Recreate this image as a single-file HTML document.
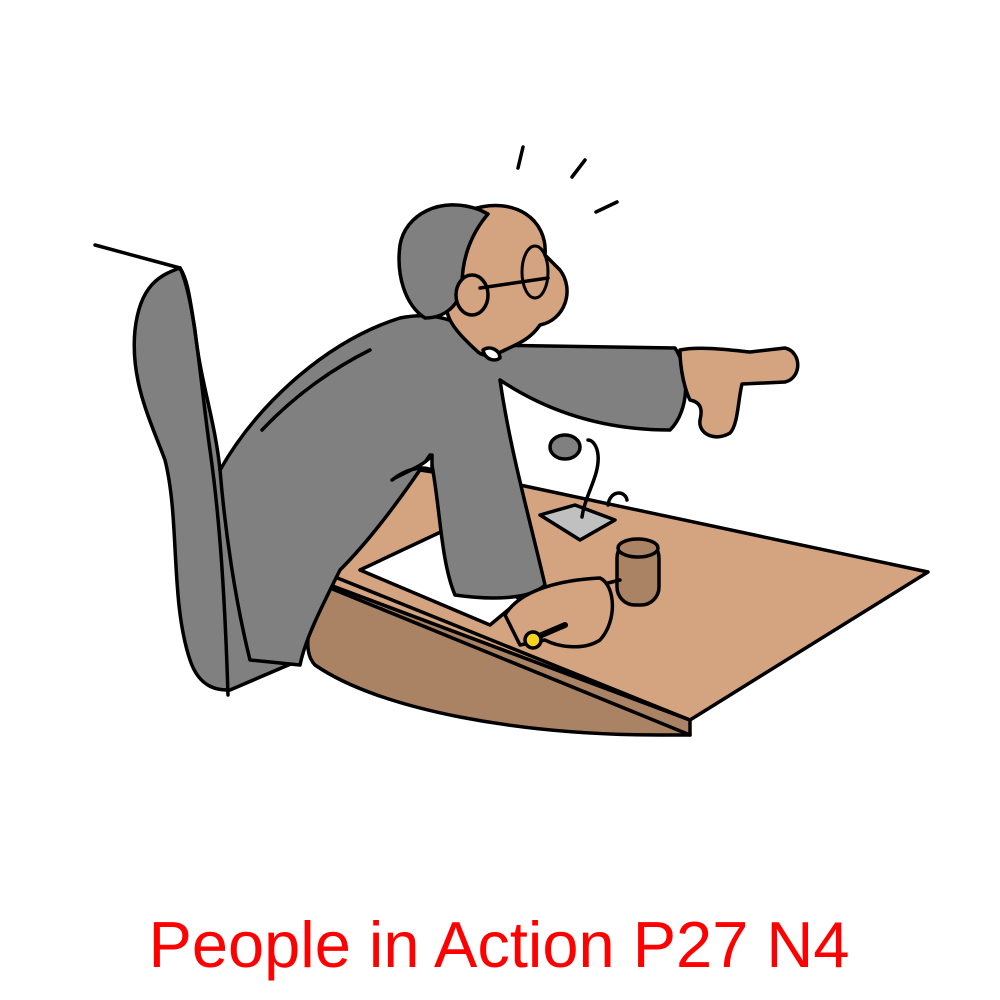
<!DOCTYPE html>
<html><head><meta charset="utf-8"><style>
html,body{margin:0;padding:0;background:#fff;width:1000px;height:1000px;overflow:hidden}
svg{display:block}
</style></head><body>
<svg width="1000" height="1000" viewBox="0 0 1000 1000" stroke="#000" stroke-width="3.5" stroke-linejoin="round" stroke-linecap="round">
<g>
<path d="M95,245 L180,268" fill="none"/>
<path d="M180,268 C160,275 140,285 135,330 C130,380 150,420 165,460 C180,520 170,600 190,660 C200,690 220,690 230,690 L300,660 L220,470 C215,420 200,380 195,330 C190,300 188,280 180,268 Z" fill="#808080"/>
<path d="M180,268 C195,300 200,380 210,450 C220,520 225,600 228,695" fill="none"/>
</g>
<g>
<path d="M330,585 C310,610 300,650 315,665 C380,710 520,735 660,735 L690,735 L690,720 Z" fill="#AA8264"/>
<path d="M330,575 L420,470 L520,485 L928,572 L690,720 L330,585 Z" fill="#D4A37F"/>
<path d="M330,575 L690,720 M330,588 L690,735" fill="none"/>
<path d="M360,570 L445,530 L520,600 L490,625 Z" fill="#fff"/>
</g>
<g>
<path d="M540,515 L575,505 L615,520 L580,540 Z" fill="#c0c0c0"/>
<path d="M582,517 C585,495 600,475 598,455 C597,445 592,440 588,440" fill="none"/>
<ellipse cx="565" cy="447" rx="15" ry="12" fill="#808080"/>
<path d="M608,505 C610,490 625,490 627,500" fill="none"/>
</g>
<g>
<rect x="617" y="540" width="42" height="65" rx="18" fill="#AA8264"/>
<ellipse cx="638" cy="548" rx="20" ry="9" fill="#AA8264"/>
<path d="M600,585 L620,580" fill="none"/>
</g>
<g>
<path d="M220,470 C260,400 330,340 400,318 C440,310 470,325 485,345 L675,348 C690,370 690,410 670,430 C620,430 560,420 500,380 C510,450 530,520 545,585 C530,600 490,600 455,595 C440,560 440,500 430,455 C400,500 370,540 340,570 C320,610 305,640 300,665 L250,660 C235,600 225,530 220,470 Z" fill="#808080"/>
<path d="M392,480 C405,470 420,465 432,470 L432,455 C425,465 410,470 395,478 Z" fill="#fff"/>
<path d="M262,430 C300,390 340,365 370,350" fill="none"/>
</g>
<g>
<path d="M470,210 C515,195 548,220 545,255 L560,270 C575,290 565,320 540,325 C530,340 515,345 505,350 C495,355 485,358 478,352 C465,340 455,330 450,320 C440,300 440,240 470,210 Z" fill="#D4A37F"/>
<path d="M480,210 C440,195 405,215 400,245 C396,275 405,305 425,318 C445,318 460,305 462,285 C462,260 470,235 488,214 Z" fill="#808080"/>
<ellipse cx="472" cy="295" rx="16" ry="20" fill="#D4A37F"/>
<path d="M480,288 L548,278" fill="none"/>
<ellipse cx="535" cy="272" rx="13" ry="26" fill="none" stroke-width="3"/>
<path d="M483,350 C490,345 500,350 500,358 C495,362 485,360 483,350 Z" fill="#fff"/>
</g>
<g>
<path d="M680,350 C700,346 730,350 750,352 L785,348 C802,352 802,378 785,382 L742,384 C738,400 738,425 730,433 C715,442 698,434 700,420 C703,408 700,402 690,400 C685,390 680,370 680,350 Z" fill="#D4A37F"/>
</g>
<g>
<path d="M505,615 C520,590 560,580 600,578 C615,585 618,620 600,640 C585,650 560,648 545,640 L520,645 Z" fill="#D4A37F"/>
<path d="M530,640 L565,625" fill="none" stroke-width="6"/>
<circle cx="533" cy="640" r="8" fill="#F5D21E"/>
</g>
<g>
<path d="M518,168 L523,147 M572,177 L585,160 M596,212 L617,202" fill="none"/>
</g>
<text x="499" y="967" text-anchor="middle" font-family="Liberation Sans, sans-serif" font-size="65" fill="#FF0000" stroke="none">People in Action P27 N4</text>
</svg>
</body></html>
